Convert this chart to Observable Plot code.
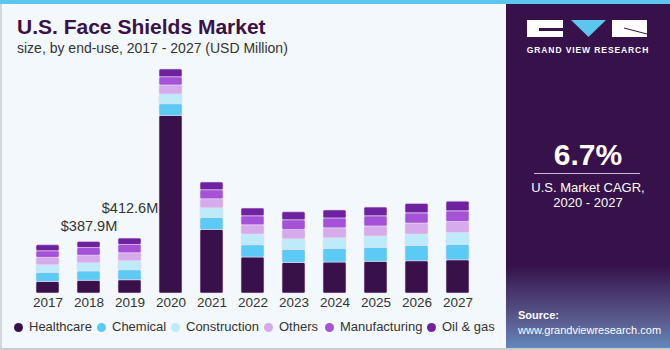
<!DOCTYPE html>
<html>
<head>
<meta charset="utf-8">
<script src="https://cdn.jsdelivr.net/npm/d3@7"></script>
<script src="https://cdn.jsdelivr.net/npm/@observablehq/plot@0.6"></script>
<style>
  html, body { margin: 0; padding: 0; }
  body { width: 670px; height: 350px; overflow: hidden; font-family: "Liberation Sans", Arial, sans-serif; }
  #page { position: relative; width: 670px; height: 350px; background: #F3F8FC; }
  #topbar { position: absolute; left: 0; top: 0; width: 670px; height: 4px; background: #5CC6EE; }
  #leftline { position: absolute; left: 0; top: 4px; width: 2px; height: 346px; background: #D4D7DA; }
  #bottomline { position: absolute; left: 0; top: 348px; width: 670px; height: 2px; background: #C9CDD1; }
  #title { position: absolute; left: 17px; top: 15px; font-size: 21px; font-weight: bold; color: #3A1148; font-family: "Liberation Sans", Arial, sans-serif; }
  #subtitle { position: absolute; left: 17px; top: 40px; font-size: 14px; color: #333; }
  #chart { position: absolute; left: 0; top: 60px; }
  #legend { position: absolute; left: 0; top: 318px; width: 506px; height: 18px; }
  .li { position: absolute; top: 0; font-size: 13px; color: #333; line-height: 18px; white-space: nowrap; }
  .dot { display: inline-block; width: 9px; height: 9px; border-radius: 50%; margin-right: 6px; vertical-align: -1px; }
  #panel { position: absolute; left: 506px; top: 4px; width: 164px; height: 344px;
    background: linear-gradient(to bottom, #37114A 0%, #37114A 76%, #45336A 83%, #5A5B8E 92%, #6388BC 100%); }
  #brand { position: absolute; left: 0; top: 41px; width: 164px; text-align: center; color: #fff; font-size: 8.5px; font-weight: bold; letter-spacing: 0.9px; }
  #cagr { position: absolute; left: 0; top: 134px; width: 164px; text-align: center; color: #fff; font-size: 30px; font-weight: bold; }
  #cagrline { position: absolute; left: 28px; top: 169px; width: 106px; height: 1px; background: #C9B7D4; }
  #cagrtxt { position: absolute; left: 0; top: 176px; width: 164px; text-align: center; color: #fff; font-size: 13px; line-height: 15px; }
  #source { position: absolute; left: 12px; top: 304px; color: #fff; font-size: 11px; line-height: 15px; white-space: nowrap; }
</style>
</head>
<body>
<div id="page">
  <div id="topbar"></div>
  <div id="leftline"></div>
  <div id="title">U.S. Face Shields Market</div>
  <div id="subtitle">size, by end-use, 2017 - 2027 (USD Million)</div>
  <div id="chart"></div>
  <div id="legend"></div>
  <div id="panel">
    <svg width="164" height="40" style="position:absolute;left:0;top:0">
      <rect x="21" y="16" width="36" height="17" fill="#fff"/>
      <rect x="33" y="24" width="24" height="3" fill="#37114A"/>
      <polygon points="65,16 100,16 82.5,33" fill="#5CC6EE"/>
      <rect x="106" y="16" width="35" height="17" fill="#fff"/>
      <line x1="118" y1="24" x2="141" y2="30" stroke="#37114A" stroke-width="1"/>
    </svg>
    <div id="brand">GRAND VIEW RESEARCH</div>
    <div id="cagr">6.7%</div>
    <div id="cagrline"></div>
    <div id="cagrtxt">U.S. Market CAGR,<br>2020 - 2027</div>
    <div id="source"><b>Source:</b><br>www.grandviewresearch.com</div>
  </div>
  <div id="bottomline"></div>
</div>
<script>
const years = ["2017","2018","2019","2020","2021","2022","2023","2024","2025","2026","2027"];
const segments = ["Healthcare","Chemical","Construction","Others","Manufacturing","Oil & gas"];
const colors = ["#38114A","#5BCBF5","#BEEBFA","#D6ABEC","#A552D8","#6E22A0"];
const healthcare    = [87, 95, 100, 1336, 478, 271, 230, 233, 238, 243, 250];
const chemical      = [68, 71, 75, 88, 90, 92, 98, 102, 105, 115, 115];
const construction  = [58, 62, 68, 73, 73, 80, 80, 80, 86, 85, 90];
const others        = [55, 56, 60, 68, 68, 70, 70, 75, 75, 83, 83];
const manufacturing = [50, 58, 62, 62, 68, 68, 73, 75, 77, 77, 80];
const oilGas        = [45, 46, 48, 58, 58, 58, 60, 60, 65, 71, 73];
const labels = [{year: "2018", text: "$387.9M"}, {year: "2019", text: "$412.6M"}];

const series = [healthcare, chemical, construction, others, manufacturing, oilGas];
const data = [];
years.forEach((y, i) => segments.forEach((s, j) => data.push({year: y, segment: s, value: series[j][i]})));
const totals = years.map((y, i) => ({year: y, total: series.reduce((a, s) => a + s[i], 0)}));
const lab = labels.map(l => ({...l, total: totals.find(t => t.year === l.year).total}));

const chart = Plot.plot({
  width: 506,
  height: 252,
  marginLeft: 13,
  marginRight: 13,
  marginTop: 7,
  marginBottom: 19,
  style: {background: "transparent", fontFamily: "Liberation Sans, Arial, sans-serif"},
  x: {domain: years, padding: 0.43, label: null},
  y: {domain: [0, 1700], axis: null},
  color: {domain: segments, range: colors},
  marks: [
    Plot.barY(data, {x: "year", y: "value", fill: "segment", stroke: "#E6D9EE", strokeWidth: 0.6, rx: 1.5}),
    Plot.axisX({tickSize: 0, tickPadding: 4, fontSize: 13.5, color: "#333"}),
    Plot.text(lab.filter(d => d.year === "2018"), {x: "year", y: "total", text: "text", dy: -16, fontSize: 14.5, fill: "#333"}),
    Plot.text(lab.filter(d => d.year === "2019"), {x: "year", y: "total", text: "text", dy: -30, fontSize: 14.5, fill: "#333"})
  ]
});
document.getElementById("chart").appendChild(chart);

const pos = [14, 97, 171, 264, 325, 427];
const legend = document.getElementById("legend");
segments.forEach((s, i) => {
  const el = document.createElement("div");
  el.className = "li";
  el.style.left = pos[i] + "px";
  el.innerHTML = `<span class="dot" style="background:${colors[i]}"></span>${s}`;
  legend.appendChild(el);
});
</script>
</body>
</html>
